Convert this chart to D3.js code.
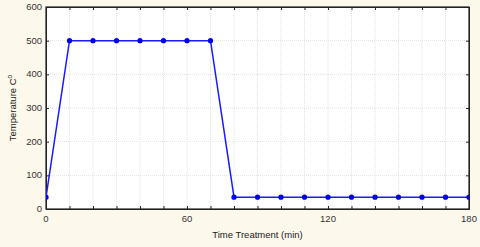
<!DOCTYPE html>
<html lang="en">
  <head>
    <meta charset="UTF-8" />
    <title>Temperature vs time treatment</title>
    <script src="https://d3js.org/d3.v7.min.js"></script>
    <style>
      body {
        margin: 0;
        background-color: #fdf8ec;
      }
      svg {
        display: block;
        font-family: "Liberation Sans", Arial, sans-serif;
      }
      .grid line {
        stroke: #e2e2e2;
        stroke-dasharray: 1, 1;
      }
      .tick-label {
        font-size: 9.5px;
        fill: #333;
      }
      .axis-title {
        font-size: 9.5px;
        fill: #222;
      }
    </style>
  </head>
  <body>
    <svg id="chart" width="480" height="247"></svg>
    <script>
      // data
      const times = [0, 10, 20, 30, 40, 50, 60, 70, 80, 90, 100, 110, 120, 130, 140, 150, 160, 170, 180];
      const temps = [35, 500, 500, 500, 500, 500, 500, 500, 35, 35, 35, 35, 35, 35, 35, 35, 35, 35, 35];
      const xTickLabels = [0, 60, 120, 180];
      const yTickLabels = [0, 100, 200, 300, 400, 500, 600];

      const width = 480;
      const height = 247;
      const margin = { top: 7, right: 11, bottom: 38, left: 46 };
      const innerW = width - margin.left - margin.right;
      const innerH = height - margin.top - margin.bottom;

      const svg = d3.select("#chart");

      const x = d3.scaleLinear().domain([0, 180]).range([margin.left, margin.left + innerW]);
      const y = d3.scaleLinear().domain([0, 600]).range([margin.top + innerH, margin.top]);

      // plot background
      svg
        .append("rect")
        .attr("x", margin.left)
        .attr("y", margin.top)
        .attr("width", innerW)
        .attr("height", innerH)
        .attr("fill", "#fff");

      // grid lines
      const grid = svg.append("g").attr("class", "grid");
      grid
        .selectAll(".gx")
        .data(d3.range(10, 180, 10))
        .enter()
        .append("line")
        .attr("x1", (d) => x(d))
        .attr("x2", (d) => x(d))
        .attr("y1", margin.top)
        .attr("y2", margin.top + innerH);
      grid
        .selectAll(".gy")
        .data(yTickLabels.slice(1, -1))
        .enter()
        .append("line")
        .attr("x1", margin.left)
        .attr("x2", margin.left + innerW)
        .attr("y1", (d) => y(d))
        .attr("y2", (d) => y(d));

      // axes with inward ticks, no labels
      const ax = (gen, tx, ty) =>
        svg
          .append("g")
          .attr("transform", `translate(${tx},${ty})`)
          .call(gen)
          .call((g) => g.selectAll("text").remove())
          .call((g) => g.selectAll("line,path").attr("stroke", "#222"));

      ax(d3.axisBottom(x).tickValues(d3.range(0, 181, 10)).tickSize(-3).tickSizeOuter(0), 0, y(0));
      ax(d3.axisTop(x).tickValues(d3.range(0, 181, 10)).tickSize(-3).tickSizeOuter(0), 0, y(600));
      ax(d3.axisLeft(y).tickValues(yTickLabels).tickSize(-3).tickSizeOuter(0), x(0), 0);
      ax(d3.axisRight(y).tickValues(yTickLabels).tickSize(-3).tickSizeOuter(0), x(180), 0);

      svg
        .append("rect")
        .attr("x", margin.left)
        .attr("y", margin.top)
        .attr("width", innerW)
        .attr("height", innerH)
        .attr("fill", "none")
        .attr("stroke", "#222")
        .attr("stroke-width", 1.2);

      // tick labels
      svg
        .selectAll(".xl")
        .data(xTickLabels)
        .enter()
        .append("text")
        .attr("class", "tick-label")
        .attr("x", (d) => x(d))
        .attr("y", y(0) + 13)
        .attr("text-anchor", "middle")
        .text((d) => d);
      svg
        .selectAll(".yl")
        .data(yTickLabels)
        .enter()
        .append("text")
        .attr("class", "tick-label")
        .attr("x", x(0) - 4)
        .attr("y", (d) => y(d) + 3)
        .attr("text-anchor", "end")
        .text((d) => d);

      // axis titles
      svg
        .append("text")
        .attr("class", "axis-title")
        .attr("x", margin.left + innerW / 2)
        .attr("y", 238)
        .attr("text-anchor", "middle")
        .text("Time Treatment (min)");

      const yt = svg
        .append("text")
        .attr("class", "axis-title")
        .attr("transform", `translate(16,${margin.top + innerH / 2}) rotate(-90)`)
        .attr("text-anchor", "middle");
      yt.append("tspan").text("Temperature C");
      yt.append("tspan").attr("dy", -4).attr("font-size", "6.5px").text("o");

      // series
      const pts = times.map((t, i) => [t, temps[i]]);
      svg
        .append("clipPath")
        .attr("id", "plot-clip")
        .append("rect")
        .attr("x", margin.left)
        .attr("y", margin.top)
        .attr("width", innerW)
        .attr("height", innerH);

      const series = svg.append("g").attr("clip-path", "url(#plot-clip)");
      series
        .append("path")
        .datum(pts)
        .attr("fill", "none")
        .attr("stroke", "#1a1aff")
        .attr("stroke-width", 1.5)
        .attr("d", d3.line().x((d) => x(d[0])).y((d) => y(d[1])));
      series
        .selectAll("circle")
        .data(pts)
        .enter()
        .append("circle")
        .attr("cx", (d) => x(d[0]))
        .attr("cy", (d) => y(d[1]))
        .attr("r", 2.6)
        .attr("fill", "#0000ee");
    </script>
  </body>
</html>
